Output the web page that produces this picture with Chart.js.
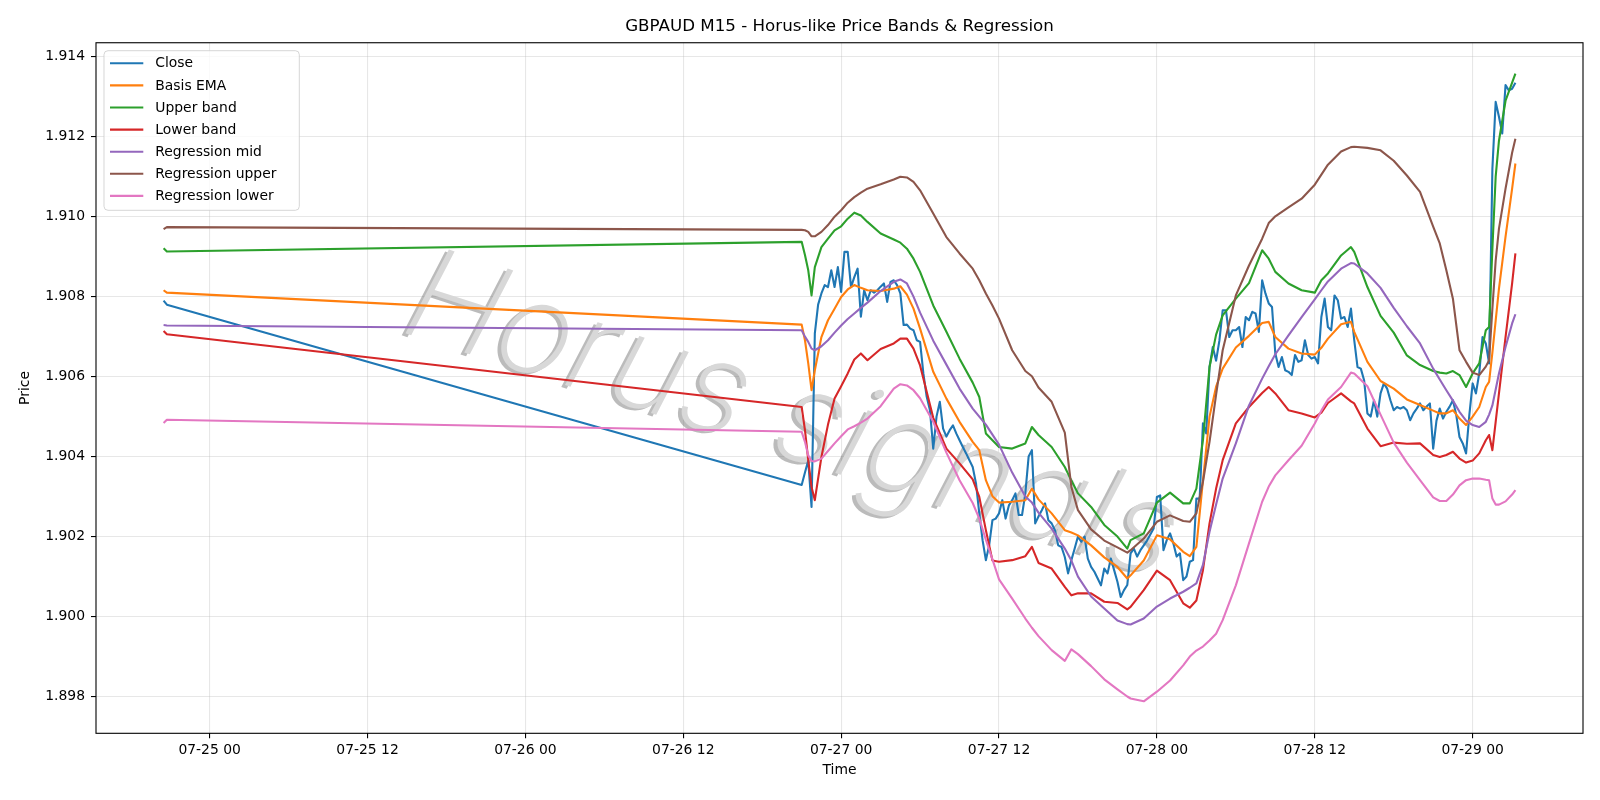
<!DOCTYPE html>
<html><head><meta charset="utf-8">
<script src="https://cdn.jsdelivr.net/npm/chart.js@4.4.1/dist/chart.umd.min.js"></script>
<style>html,body{margin:0;padding:0;background:#fff;}#wrap{width:1600px;height:800px;}</style>
</head><body><div id="wrap"><canvas id="c" width="1600" height="800"></canvas></div>
<script>
// ---------------- DATA ----------------
const chartTitle = 'GBPAUD M15 - Horus-like Price Bands & Regression';
const watermarkText = 'Horus signals';
const xAxisTitle = 'Time';
const yAxisTitle = 'Price';
const seriesNames = ['Close','Basis EMA','Upper band','Lower band','Regression mid','Regression upper','Regression lower'];
const seriesColors = ['#1f77b4','#ff7f0e','#2ca02c','#d62728','#9467bd','#8c564b','#e377c2'];

// x values are hours from 07-25 00:00
const timeTickHours = [0, 12, 24, 36, 48, 60, 72, 84, 96];
const timeTickLabels = ['07-25 00','07-25 12','07-26 00','07-26 12','07-27 00','07-27 12','07-28 00','07-28 12','07-29 00'];
const priceTicks = [1.898, 1.900, 1.902, 1.904, 1.906, 1.908, 1.910, 1.912, 1.914];

// Close: two bars before the gap, then 15-minute bars from 07-26 21:00
const closePreGapHours = [-3.5, -3.25];
const closePreGap = [1.9079, 1.9078];
const closeSessionStart = 45;   // hours
const closeSessionStep = 0.25;  // 15 minutes
const closeSession = [
  1.90329, 1.90360, 1.90390, 1.90274,
  1.90708, 1.90780, 1.90808, 1.90829,
  1.90824, 1.90866, 1.90824, 1.90874,
  1.90812, 1.90912, 1.90912, 1.90824,
  1.90849, 1.90870, 1.90750, 1.90816,
  1.90791, 1.90816, 1.90810, 1.90816,
  1.90825, 1.90833, 1.90787, 1.90837,
  1.90841, 1.90829, 1.90808, 1.90729,
  1.90730, 1.90720, 1.90716, 1.90691,
  1.90687, 1.90608, 1.90550, 1.90516,
  1.90420, 1.90500, 1.90537, 1.90470,
  1.90450, 1.90466, 1.90478, 1.90458,
  1.90441, 1.90424, 1.90408, 1.90391,
  1.90374, 1.90333, 1.90258, 1.90191,
  1.90141, 1.90178, 1.90241, 1.90245,
  1.90258, 1.90291, 1.90245, 1.90278,
  1.90291, 1.90308, 1.90254, 1.90254,
  1.90308, 1.90400, 1.90416, 1.90233,
  1.90250, 1.90266, 1.90283, 1.90241,
  1.90233, 1.90216, 1.90178, 1.90174,
  1.90149, 1.90108, 1.90141, 1.90170,
  1.90200, 1.90187, 1.90200, 1.90145,
  1.90124, 1.90112, 1.90095, 1.90078,
  1.90120, 1.90108, 1.90145, 1.90116,
  1.90087, 1.90049, 1.90066, 1.90079,
  1.90158, 1.90170, 1.90150, 1.90166,
  1.90178, 1.90190, 1.90205, 1.90220,
  1.90299, 1.90303, 1.90166, 1.90191,
  1.90208, 1.90183, 1.90150, 1.90158,
  1.90091, 1.90100, 1.90137, 1.90141,
  1.90295, 1.90295, 1.90483, 1.90458,
  1.90624, 1.90674, 1.90640, 1.90690,
  1.90766, 1.90766, 1.90699, 1.90716,
  1.90716, 1.90724, 1.90674, 1.90749,
  1.90741, 1.90762, 1.90758, 1.90712,
  1.90841, 1.90808, 1.90783, 1.90774,
  1.90658, 1.90624, 1.90649, 1.90616,
  1.90612, 1.90604, 1.90654, 1.90637,
  1.90641, 1.90691, 1.90654, 1.90645,
  1.90649, 1.90633, 1.90749, 1.90795,
  1.90724, 1.90716, 1.90803, 1.90791,
  1.90745, 1.90749, 1.90724, 1.90770,
  1.90691, 1.90624, 1.90620, 1.90591,
  1.90508, 1.90500, 1.90541, 1.90500,
  1.90558, 1.90583, 1.90570, 1.90541,
  1.90516, 1.90524, 1.90520, 1.90524,
  1.90516, 1.90491, 1.90508, 1.90520,
  1.90533, 1.90516, 1.90525, 1.90533,
  1.90420, 1.90490, 1.90520, 1.90495,
  1.90512, 1.90525, 1.90541, 1.90505,
  1.90449, 1.90433, 1.90408, 1.90505,
  1.90583, 1.90558, 1.90608, 1.90699,
  1.90683, 1.90633, 1.91120, 1.91287,
  1.91250, 1.91208, 1.91329, 1.91316,
  1.91320, 1.91335
];

// Smooth indicator series sampled at these hours
const bandHours = [-3.5, -3.25,
  45, 45.25, 45.5, 45.75, 46, 46.5, 47, 47.5, 48, 48.5, 49, 49.5, 50,
  51, 52, 52.5, 53, 53.5, 54, 55, 56, 57, 58, 58.5, 59, 59.5, 60,
  61, 62, 62.5, 63, 64, 65, 65.5, 66, 67, 68, 69, 69.75, 70, 71, 72,
  73, 74, 74.5, 75, 75.5, 76, 76.5, 77, 78, 79, 80, 80.5, 81, 82, 83, 84, 84.5, 85,
  86, 86.75, 87, 88, 89, 90, 91, 92, 93, 93.5, 94, 94.5, 95, 95.5, 96, 96.5,
  97, 97.25, 97.5, 97.75, 98, 98.5, 99, 99.25];

const basisEma = [1.90816, 1.90810,
  1.90730, 1.90691, 1.90633, 1.90566, 1.90616, 1.90699, 1.90741, 1.90770, 1.90799, 1.90818, 1.90829, 1.90822, 1.90816,
  1.90814, 1.90820, 1.90826, 1.90805, 1.90770, 1.90720, 1.90612, 1.90545, 1.90487, 1.90437, 1.90416, 1.90341, 1.90301, 1.90285,
  1.90287, 1.90291, 1.90320, 1.90293, 1.90258, 1.90216, 1.90210, 1.90203, 1.90178, 1.90148, 1.90124, 1.90095, 1.90103, 1.90140, 1.90203,
  1.90193, 1.90162, 1.90151, 1.90174, 1.90340, 1.90500, 1.90575, 1.90620, 1.90673, 1.90702, 1.90734, 1.90737, 1.90699, 1.90670, 1.90658, 1.90655, 1.90672, 1.90695,
  1.90731, 1.90737, 1.90712, 1.90637, 1.90589, 1.90570, 1.90543, 1.90529, 1.90515, 1.90508, 1.90508, 1.90516, 1.90495, 1.90479, 1.90500, 1.90524,
  1.90574, 1.90587, 1.90660, 1.90740, 1.90820, 1.90950, 1.91070, 1.91133];

const upperBand = [1.90921, 1.90913,
  1.90937, 1.90904, 1.90866, 1.90803, 1.90874, 1.90924, 1.90945, 1.90966, 1.90976, 1.90995, 1.91010, 1.91003, 1.90987,
  1.90958, 1.90943, 1.90935, 1.90920, 1.90895, 1.90862, 1.90778, 1.90712, 1.90645, 1.90585, 1.90549, 1.90458, 1.90441, 1.90424,
  1.90420, 1.90433, 1.90474, 1.90454, 1.90424, 1.90374, 1.90340, 1.90308, 1.90274, 1.90229, 1.90200, 1.90170, 1.90191, 1.90208, 1.90285,
  1.90310, 1.90283, 1.90283, 1.90320, 1.90441, 1.90624, 1.90705, 1.90753, 1.90795, 1.90834, 1.90916, 1.90895, 1.90862, 1.90833, 1.90816, 1.90810, 1.90841, 1.90858,
  1.90903, 1.90924, 1.90912, 1.90824, 1.90752, 1.90710, 1.90653, 1.90629, 1.90614, 1.90610, 1.90608, 1.90614, 1.90604, 1.90574, 1.90608, 1.90633,
  1.90716, 1.90724, 1.90920, 1.91100, 1.91190, 1.91290, 1.91335, 1.91358];

const lowerBand = [1.90714, 1.90706,
  1.90524, 1.90466, 1.90391, 1.90324, 1.90291, 1.90399, 1.90480, 1.90545, 1.90576, 1.90608, 1.90643, 1.90658, 1.90641,
  1.90669, 1.90683, 1.90695, 1.90695, 1.90670, 1.90628, 1.90497, 1.90420, 1.90383, 1.90343, 1.90299, 1.90216, 1.90140, 1.90137,
  1.90141, 1.90151, 1.90174, 1.90134, 1.90120, 1.90074, 1.90053, 1.90058, 1.90058, 1.90037, 1.90034, 1.90018, 1.90024, 1.90066, 1.90115,
  1.90091, 1.90033, 1.90022, 1.90040, 1.90116, 1.90233, 1.90320, 1.90391, 1.90483, 1.90524, 1.90559, 1.90574, 1.90558, 1.90516, 1.90508, 1.90498, 1.90510, 1.90534,
  1.90558, 1.90538, 1.90533, 1.90470, 1.90426, 1.90435, 1.90432, 1.90433, 1.90404, 1.90399, 1.90404, 1.90412, 1.90395, 1.90385, 1.90390, 1.90408,
  1.90441, 1.90454, 1.90416, 1.90487, 1.90558, 1.90699, 1.90833, 1.90908];

const regressionMid = [1.90729, 1.90728,
  1.90716, 1.90700, 1.90687, 1.90670, 1.90666, 1.90676, 1.90691, 1.90710, 1.90728, 1.90744, 1.90758, 1.90772, 1.90785,
  1.90814, 1.90837, 1.90843, 1.90833, 1.90800, 1.90760, 1.90690, 1.90630, 1.90570, 1.90520, 1.90500, 1.90480, 1.90455, 1.90430,
  1.90360, 1.90300, 1.90285, 1.90260, 1.90220, 1.90170, 1.90140, 1.90100, 1.90050, 1.90020, 1.89990, 1.89981, 1.89980, 1.89995, 1.90025,
  1.90045, 1.90062, 1.90072, 1.90083, 1.90129, 1.90212, 1.90280, 1.90345, 1.90433, 1.90528, 1.90595, 1.90626, 1.90656, 1.90703, 1.90749, 1.90793, 1.90816, 1.90838,
  1.90870, 1.90884, 1.90883, 1.90858, 1.90822, 1.90772, 1.90726, 1.90683, 1.90620, 1.90593, 1.90566, 1.90540, 1.90512, 1.90490, 1.90479, 1.90474,
  1.90487, 1.90505, 1.90528, 1.90568, 1.90608, 1.90674, 1.90733, 1.90756];

const regressionUpper = [1.90969, 1.90974,
  1.90967, 1.90966, 1.90962, 1.90951, 1.90951, 1.90962, 1.90979, 1.91000, 1.91016, 1.91035, 1.91049, 1.91060, 1.91070,
  1.91081, 1.91093, 1.91100, 1.91098, 1.91087, 1.91066, 1.91008, 1.90949, 1.90908, 1.90870, 1.90841, 1.90808, 1.90778, 1.90745,
  1.90666, 1.90614, 1.90601, 1.90573, 1.90537, 1.90460, 1.90324, 1.90266, 1.90218, 1.90190, 1.90173, 1.90160, 1.90166, 1.90195, 1.90237,
  1.90253, 1.90239, 1.90237, 1.90258, 1.90337, 1.90437, 1.90555, 1.90666, 1.90803, 1.90878, 1.90945, 1.90984, 1.91001, 1.91023, 1.91045, 1.91080, 1.91105, 1.91130,
  1.91163, 1.91174, 1.91175, 1.91172, 1.91166, 1.91140, 1.91103, 1.91062, 1.90975, 1.90933, 1.90866, 1.90795, 1.90666, 1.90637, 1.90610, 1.90604,
  1.90625, 1.90641, 1.90770, 1.90890, 1.90970, 1.91070, 1.91160, 1.91195];

const regressionLower = [1.90484, 1.90492,
  1.90462, 1.90437, 1.90403, 1.90389, 1.90388, 1.90395, 1.90414, 1.90433, 1.90451, 1.90468, 1.90476, 1.90485, 1.90495,
  1.90526, 1.90570, 1.90581, 1.90578, 1.90566, 1.90546, 1.90487, 1.90410, 1.90341, 1.90284, 1.90245, 1.90192, 1.90143, 1.90093,
  1.90045, 1.89995, 1.89972, 1.89951, 1.89916, 1.89889, 1.89918, 1.89906, 1.89876, 1.89843, 1.89818, 1.89800, 1.89795, 1.89788, 1.89812,
  1.89840, 1.89878, 1.89900, 1.89915, 1.89925, 1.89940, 1.89957, 1.89991, 1.90078, 1.90183, 1.90287, 1.90325, 1.90353, 1.90391, 1.90427, 1.90483, 1.90515, 1.90543,
  1.90574, 1.90610, 1.90608, 1.90576, 1.90505, 1.90435, 1.90385, 1.90341, 1.90298, 1.90289, 1.90289, 1.90305, 1.90328, 1.90341, 1.90345, 1.90345,
  1.90342, 1.90341, 1.90295, 1.90280, 1.90280, 1.90288, 1.90305, 1.90316];

// ---------------- BUILD ----------------
const closeHours = closePreGapHours.concat(closeSession.map((_, i) => closeSessionStart + i * closeSessionStep));
const closeValues = closePreGap.concat(closeSession);
function pts(hours, values) { return hours.map((h, i) => ({ x: h, y: values[i] })); }
const seriesPoints = [
  pts(closeHours, closeValues),
  pts(bandHours, basisEma),
  pts(bandHours, upperBand),
  pts(bandHours, lowerBand),
  pts(bandHours, regressionMid),
  pts(bandHours, regressionUpper),
  pts(bandHours, regressionLower)
];

const FONT = 'DejaVu Sans';
Chart.defaults.font.family = FONT;
Chart.defaults.color = '#000';

const decorPlugin = {
  id: 'decor',
  beforeDatasetsDraw(chart) {
    const { ctx, chartArea: a } = chart;
    ctx.save();
    ctx.beginPath();
    ctx.rect(a.left, a.top, a.right - a.left, a.bottom - a.top);
    ctx.clip();
    ctx.translate(780, 455);
    ctx.rotate(18 * Math.PI / 180);
    ctx.font = 'italic 200 128px "Inter", "Roboto", "' + FONT + '"';
    ctx.textAlign = 'center';
    ctx.textBaseline = 'alphabetic';
    ctx.lineJoin = 'round';
    // shadow copy
    ctx.fillStyle = 'rgba(120,120,120,0.5)';
    ctx.fillText(watermarkText, -3, 3);
    // face
    ctx.fillStyle = 'rgba(216,216,216,1)';
    ctx.fillText(watermarkText, 0, 0);
    ctx.restore();
  },
  afterDatasetsDraw(chart) {
    const { ctx, chartArea: a } = chart;
    ctx.save();
    // frame
    ctx.strokeStyle = '#000';
    ctx.lineWidth = 1.1;
    ctx.strokeRect(a.left, a.top, a.right - a.left, a.bottom - a.top);
    // legend
    const bx = 104, by = 50.7, bw = 195.3, bh = 159.6, r = 4;
    ctx.beginPath();
    ctx.moveTo(bx + r, by);
    ctx.arcTo(bx + bw, by, bx + bw, by + bh, r);
    ctx.arcTo(bx + bw, by + bh, bx, by + bh, r);
    ctx.arcTo(bx, by + bh, bx, by, r);
    ctx.arcTo(bx, by, bx + bw, by, r);
    ctx.closePath();
    ctx.fillStyle = 'rgba(255,255,255,0.8)';
    ctx.fill();
    ctx.strokeStyle = 'rgba(204,204,204,0.8)';
    ctx.lineWidth = 1;
    ctx.stroke();
    ctx.font = '13.9px "' + FONT + '"';
    ctx.textBaseline = 'middle';
    ctx.textAlign = 'left';
    seriesNames.forEach((name, i) => {
      const y = 63.3 + i * 22.1;
      ctx.strokeStyle = seriesColors[i];
      ctx.lineWidth = 2.1;
      ctx.beginPath();
      ctx.moveTo(110, y);
      ctx.lineTo(143.3, y);
      ctx.stroke();
      ctx.fillStyle = '#000';
      ctx.fillText(name, 155.3, y + 0.5);
    });
    ctx.restore();
  }
};

new Chart(document.getElementById('c'), {
  type: 'line',
  data: {
    datasets: seriesNames.map((name, i) => ({
      label: name,
      data: seriesPoints[i],
      borderColor: seriesColors[i],
      backgroundColor: seriesColors[i],
      borderWidth: 2.1,
      pointRadius: 0,
      pointHoverRadius: 0,
      tension: 0,
      fill: false,
      borderJoinStyle: 'round',
      order: seriesNames.length - i
    }))
  },
  options: {
    responsive: false,
    devicePixelRatio: 1,
    animation: false,
    events: [],
    layout: { padding: { left: 0, right: 17, top: 0, bottom: 0 } },
    plugins: {
      legend: { display: false },
      tooltip: { enabled: false },
      title: {
        display: true,
        text: chartTitle,
        fullSize: false,
        color: '#000',
        font: { family: FONT, size: 16.7, weight: 'normal', lineHeight: 1.2 },
        padding: { top: 17, bottom: 5.7 }
      }
    },
    scales: {
      x: {
        type: 'linear',
        position: 'bottom',
        min: -8.6375,
        max: 104.3875,
        afterFit: (s) => { s.height = 66.7; },
        afterBuildTicks: (s) => { s.ticks = timeTickHours.map(v => ({ value: v })); },
        ticks: {
          autoSkip: false, maxRotation: 0, minRotation: 0, padding: 4,
          color: '#000', font: { family: FONT, size: 13.9 },
          callback: (v) => { const k = timeTickHours.indexOf(v); return k >= 0 ? timeTickLabels[k] : ''; }
        },
        grid: { color: 'rgba(176,176,176,0.3)', lineWidth: 1.1, tickColor: '#000', tickLength: 5, tickWidth: 1.1 },
        border: { display: false },
        title: { display: true, text: xAxisTitle, color: '#000', font: { family: FONT, size: 13.9, lineHeight: 1.2 }, padding: { top: 0, bottom: 21.3 } }
      },
      y: {
        type: 'linear',
        position: 'left',
        min: 1.89708,
        max: 1.91435,
        afterFit: (s) => { s.width = 96; },
        afterBuildTicks: (s) => { s.ticks = priceTicks.map(v => ({ value: v })); },
        ticks: {
          padding: 6, color: '#000', font: { family: FONT, size: 13.9 },
          callback: (v) => Number(v).toFixed(3)
        },
        grid: { color: 'rgba(176,176,176,0.3)', lineWidth: 1.1, tickColor: '#000', tickLength: 5, tickWidth: 1.1 },
        border: { display: false },
        title: { display: true, text: yAxisTitle, color: '#000', font: { family: FONT, size: 13.9, lineHeight: 1.2 }, padding: { top: 17.2, bottom: 0 } }
      }
    }
  },
  plugins: [decorPlugin]
});
</script>
</body></html>
